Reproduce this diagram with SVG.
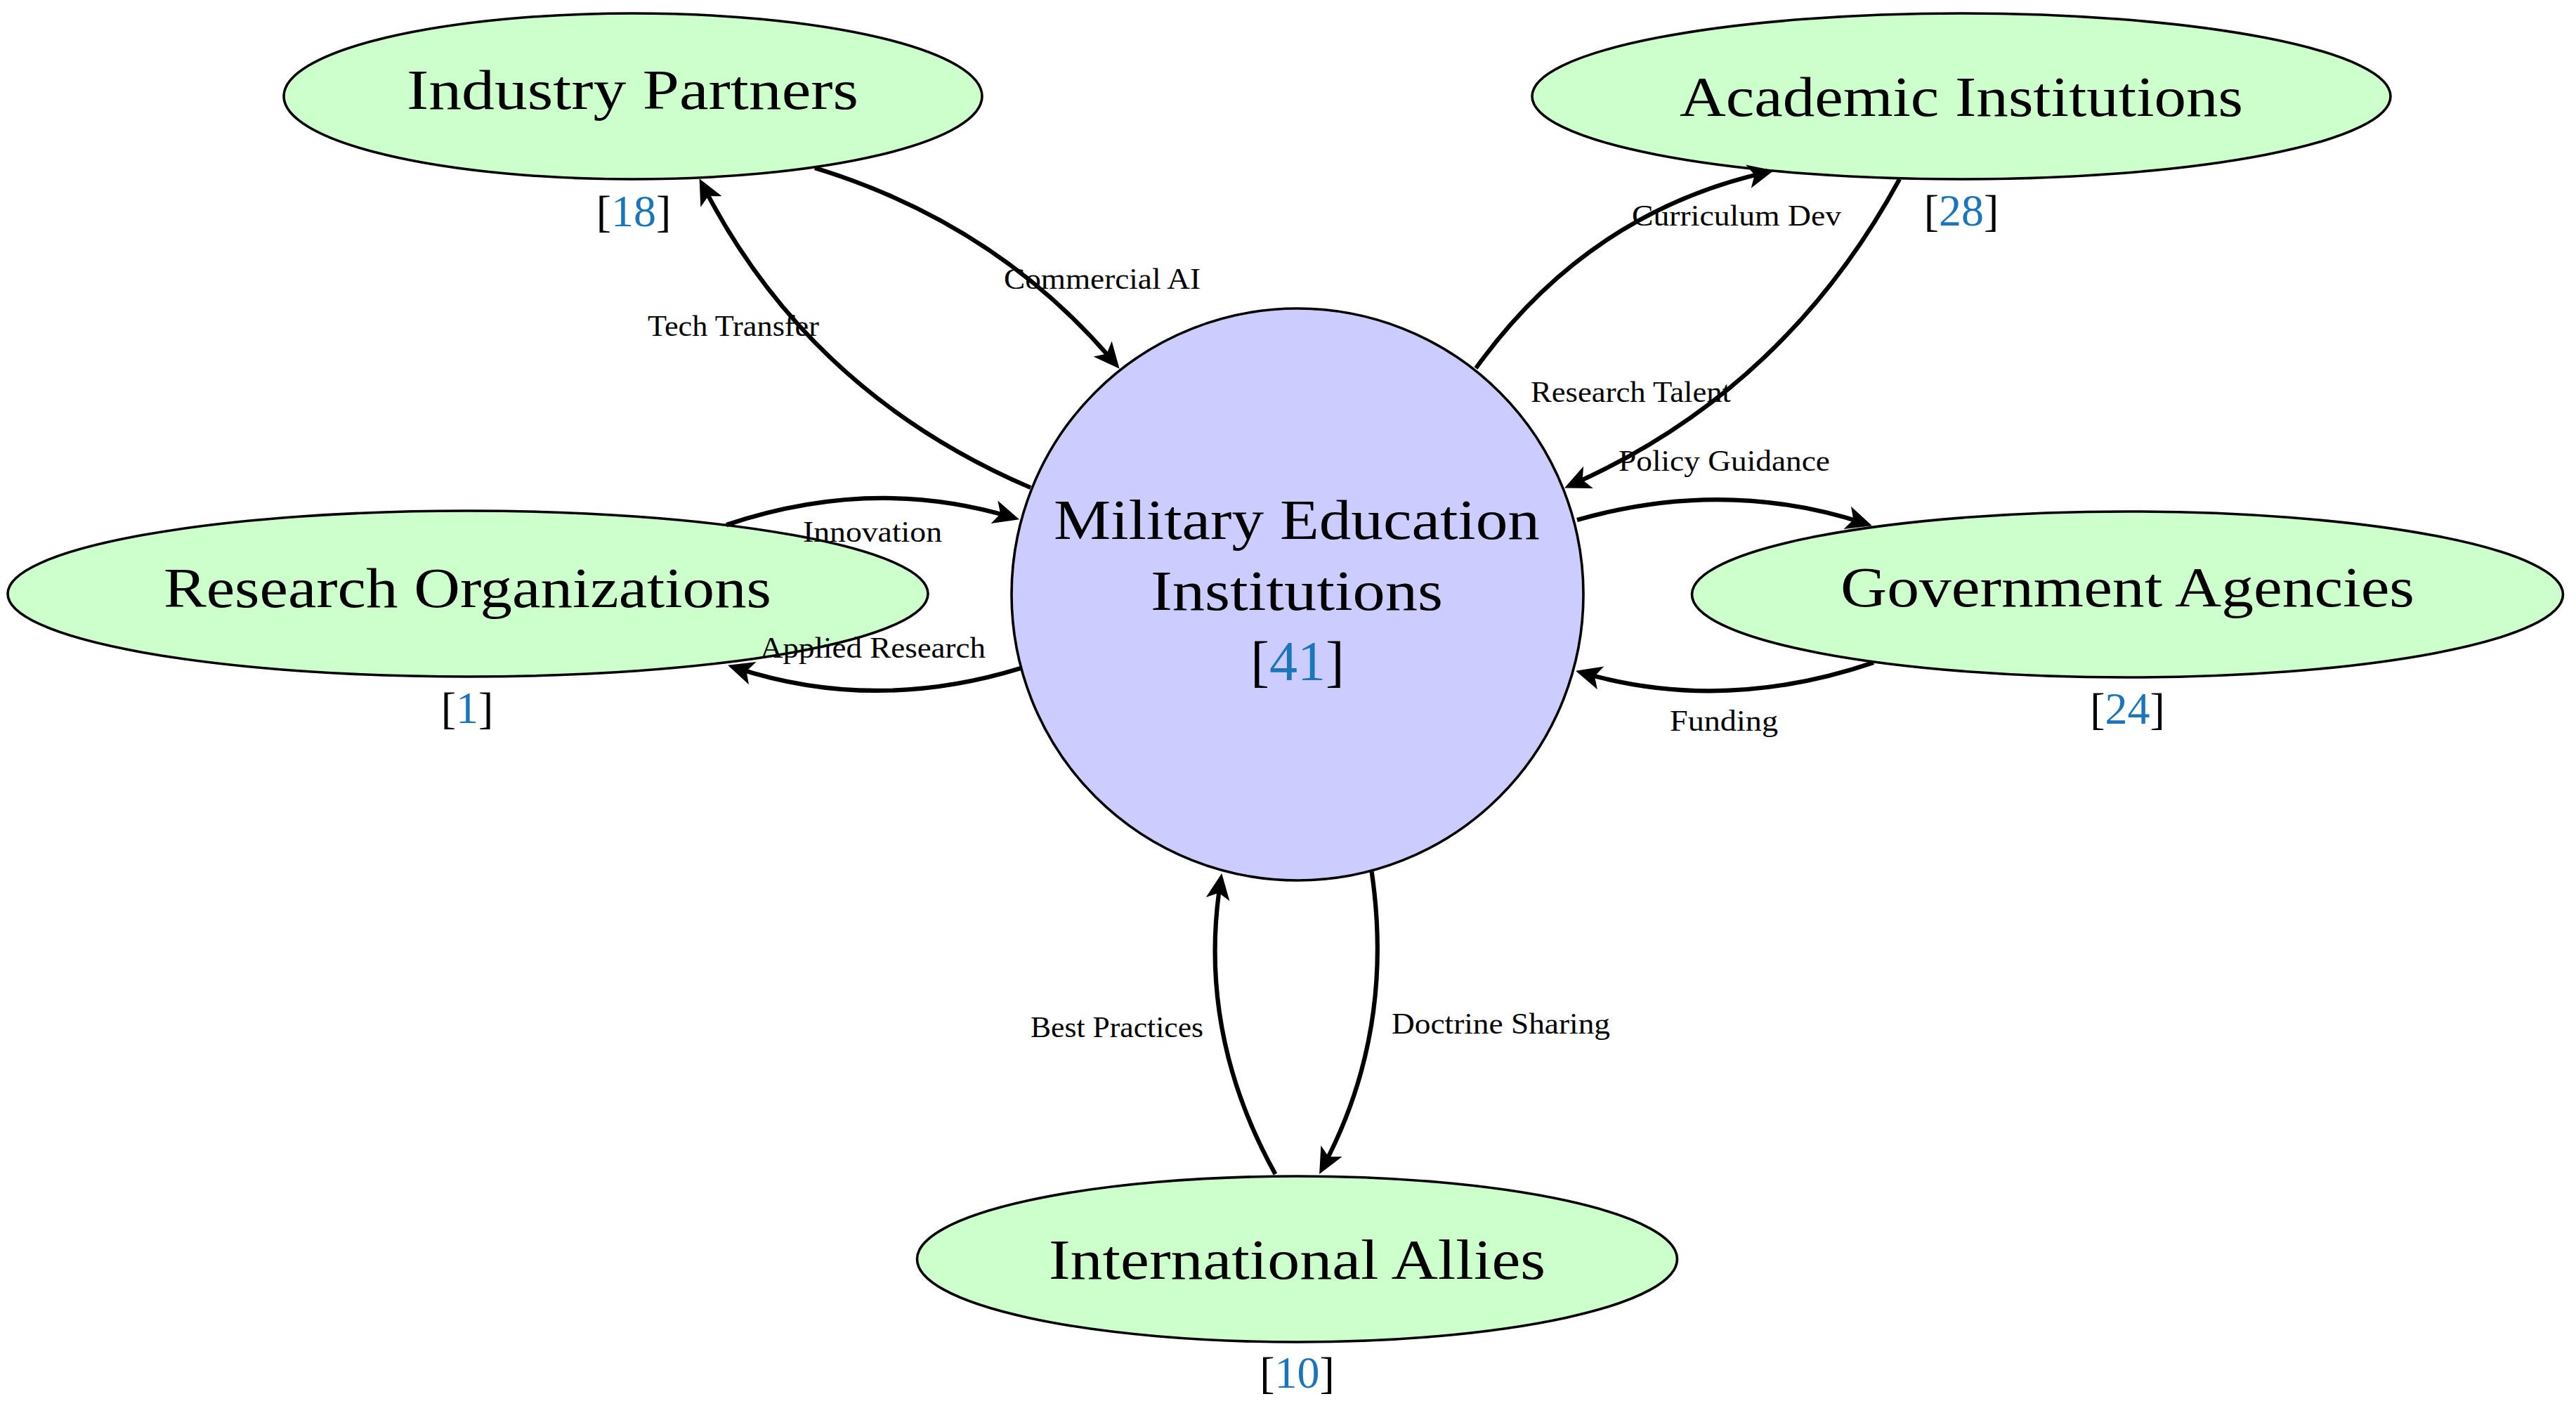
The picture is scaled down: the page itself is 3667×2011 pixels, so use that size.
<svg xmlns="http://www.w3.org/2000/svg" width="3667" height="2011" viewBox="0 0 3667 2011">
<defs>
<marker id="arr" markerUnits="userSpaceOnUse" markerWidth="40" markerHeight="40" viewBox="0 -20 40 40" refX="24" refY="0" orient="auto" overflow="visible">
<path d="M37,0 L0,-17 L9,0 L0,17 Z" fill="#000"/>
</marker>
</defs>
<style>
.bg{fill:#ffffff}
.partner{fill:#ccffcc;stroke:#000;stroke-width:3.6}
.hub{fill:#ccccff;stroke:#000;stroke-width:3.6}
.name{font-family:"Liberation Serif","Times New Roman",serif;font-size:80px;fill:#000;text-anchor:middle}
.count{font-family:"Liberation Serif","Times New Roman",serif;font-size:64px;fill:#000;text-anchor:middle}
.hubcount{font-size:80px}
.num{fill:#1a75bb}
.edge{fill:none;stroke:#000;stroke-width:6.2;marker-end:url(#arr)}
.lbl{font-family:"Liberation Serif","Times New Roman",serif;font-size:43px;fill:#000;text-anchor:middle}
</style>
<rect class="bg" x="0" y="0" width="3667" height="2011"/>

<g id="node-military">
<circle class="hub" cx="1847" cy="846" r="407"/>
<text class="name" x="1846" y="767" textLength="692" lengthAdjust="spacingAndGlyphs">Military Education</text>
<text class="name" x="1846" y="868" textLength="416" lengthAdjust="spacingAndGlyphs">Institutions</text>
<text class="count hubcount" x="1847" y="968">[<tspan class="num">41</tspan>]</text>
</g>

<g id="node-industry">
<ellipse class="partner" cx="901" cy="137" rx="497" ry="118"/>
<text class="name" x="900.5" y="155" textLength="643" lengthAdjust="spacingAndGlyphs">Industry Partners</text>
<text class="count" x="902" y="322">[<tspan class="num">18</tspan>]</text>
</g>

<g id="node-academic">
<ellipse class="partner" cx="2792" cy="137" rx="611" ry="118"/>
<text class="name" x="2792" y="165" textLength="802" lengthAdjust="spacingAndGlyphs">Academic Institutions</text>
<text class="count" x="2792" y="321">[<tspan class="num">28</tspan>]</text>
</g>

<g id="node-research">
<ellipse class="partner" cx="666" cy="845" rx="655" ry="118"/>
<text class="name" x="665.5" y="864" textLength="865" lengthAdjust="spacingAndGlyphs">Research Organizations</text>
<text class="count" x="665" y="1029">[<tspan class="num">1</tspan>]</text>
</g>

<g id="node-government">
<ellipse class="partner" cx="3028.5" cy="846" rx="620" ry="118"/>
<text class="name" x="3028.5" y="863" textLength="817" lengthAdjust="spacingAndGlyphs">Government Agencies</text>
<text class="count" x="3028.5" y="1030">[<tspan class="num">24</tspan>]</text>
</g>

<g id="node-international">
<ellipse class="partner" cx="1846.5" cy="1792" rx="541" ry="118"/>
<text class="name" x="1846.5" y="1820" textLength="707" lengthAdjust="spacingAndGlyphs">International Allies</text>
<text class="count" x="1846.5" y="1975">[<tspan class="num">10</tspan>]</text>
</g>

<g id="connectors">
<path class="edge" d="M1160,239 Q1418,318 1585.2,514.9"/>
<path class="edge" d="M1467,694 Q1152,559 1001.5,265.7"/>
<path class="edge" d="M1034,747 Q1242,677 1438.5,735.6"/>
<path class="edge" d="M1453,951 Q1245,1015 1048.4,950.7"/>
<path class="edge" d="M2101,524 Q2259,304 2512.3,245.7"/>
<path class="edge" d="M2704,255 Q2541,555 2239,689.1"/>
<path class="edge" d="M2245,740 Q2454,680 2652.6,744.3"/>
<path class="edge" d="M2667,943 Q2455,1015 2255.5,958.3"/>
<path class="edge" d="M1815.5,1671 Q1704,1470.5 1737.2,1255.9"/>
<path class="edge" d="M1952.6,1240.5 Q1986,1467 1884.2,1659.4"/>
</g>

<g id="edge-labels">
<text class="lbl" x="1569" y="411" textLength="280" lengthAdjust="spacingAndGlyphs">Commercial AI</text>
<text class="lbl" x="1044" y="478" textLength="244" lengthAdjust="spacingAndGlyphs">Tech Transfer</text>
<text class="lbl" x="1242" y="771" textLength="198" lengthAdjust="spacingAndGlyphs">Innovation</text>
<text class="lbl" x="1242.5" y="936" textLength="321" lengthAdjust="spacingAndGlyphs">Applied Research</text>
<text class="lbl" x="2472" y="321" textLength="298" lengthAdjust="spacingAndGlyphs">Curriculum Dev</text>
<text class="lbl" x="2321.5" y="572" textLength="285" lengthAdjust="spacingAndGlyphs">Research Talent</text>
<text class="lbl" x="2454.5" y="670" textLength="301" lengthAdjust="spacingAndGlyphs">Policy Guidance</text>
<text class="lbl" x="2454" y="1040" textLength="154" lengthAdjust="spacingAndGlyphs">Funding</text>
<text class="lbl" x="1590" y="1476" textLength="246" lengthAdjust="spacingAndGlyphs">Best Practices</text>
<text class="lbl" x="2136.5" y="1471" textLength="311" lengthAdjust="spacingAndGlyphs">Doctrine Sharing</text>
</g>
</svg>
